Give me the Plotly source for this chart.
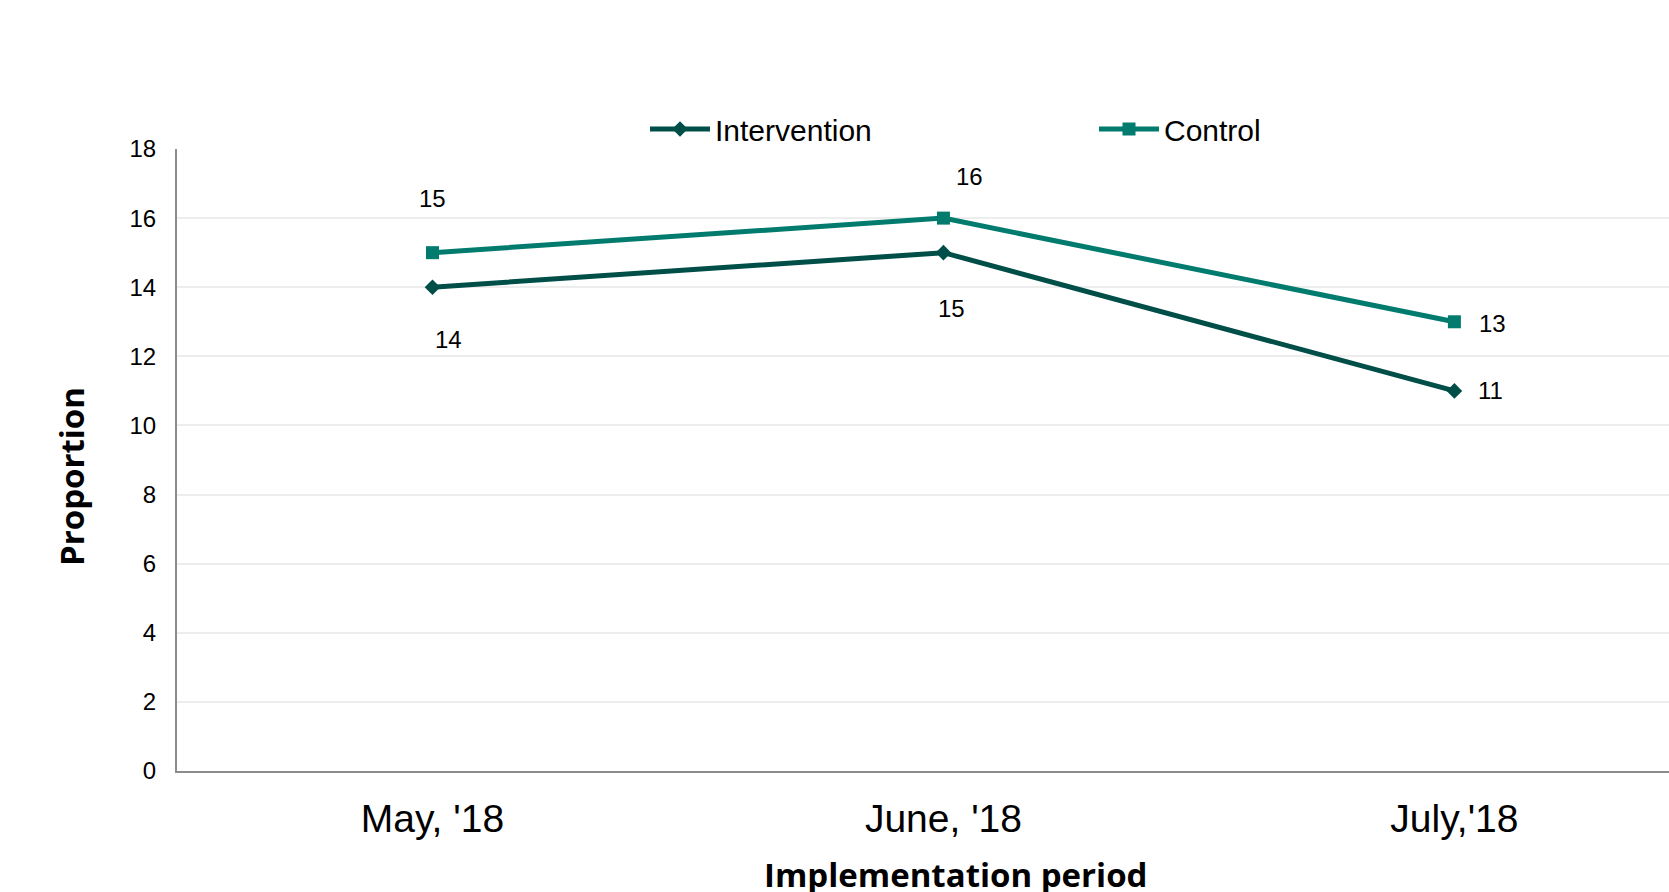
import plotly.graph_objects as go

# Monthly proportions by study arm
periods = ["May, '18", "June, '18", "July,'18"]
intervention = [14, 15, 11]
control = [15, 16, 13]

# Label offsets (pixels) for each point's value label
int_label_offsets = [(16, 52), (8, 56), (36, 0)]
ctl_label_offsets = [(0, -54), (26, -42), (38, 2)]

INT_COLOR = "#004E48"
CTL_COLOR = "#007B6D"
TICK_FONT = "Liberation Sans, Arial, sans-serif"
TITLE_FONT = "Open Sans, Noto Sans, sans-serif"

W, H = 1669, 892
ML, MR, MT, MB = 177, 0, 149, 121
pw, ph = W - ML - MR, H - MT - MB


def px_to_paper(x_px, y_px):
    """Canvas pixel (from top-left) to paper coordinates."""
    return (x_px - ML) / pw, (H - y_px - MB) / ph


fig = go.Figure()

fig.add_trace(go.Scatter(
    x=periods, y=intervention, name="Intervention", mode="lines+markers",
    line=dict(color=INT_COLOR, width=5),
    marker=dict(symbol="diamond", size=12, color=INT_COLOR),
))
fig.add_trace(go.Scatter(
    x=periods, y=control, name="Control", mode="lines+markers",
    line=dict(color=CTL_COLOR, width=5),
    marker=dict(symbol="square", size=13, color=CTL_COLOR),
))

annotations = []
for vals, offs in ((intervention, int_label_offsets), (control, ctl_label_offsets)):
    for i, (v, (dx, dy)) in enumerate(zip(vals, offs)):
        annotations.append(dict(
            x=i, y=v, xref="x", yref="y", text=str(v), showarrow=True,
            arrowcolor="rgba(0,0,0,0)", ax=dx, ay=dy,
            font=dict(family=TICK_FONT, size=24, color="#000000"),
        ))

# Axis titles placed as free text
tx, ty = px_to_paper(956, 874)
annotations.append(dict(
    x=tx, y=ty, xref="paper", yref="paper", text="<b>Implementation period</b>",
    xanchor="center", yanchor="middle", showarrow=False,
    font=dict(family=TITLE_FONT, size=33, color="#000000"),
))
px_, py_ = px_to_paper(71, 476)
annotations.append(dict(
    x=px_, y=py_, xref="paper", yref="paper", text="<b>Proportion</b>",
    xanchor="center", yanchor="middle", showarrow=False, textangle=-90,
    font=dict(family=TITLE_FONT, size=33, color="#000000"),
))

lx, ly = px_to_paper(645, 129)
fig.update_layout(
    width=W, height=H,
    margin=dict(l=ML, r=MR, t=MT, b=MB),
    paper_bgcolor="white", plot_bgcolor="white",
    showlegend=True,
    legend=dict(
        orientation="h", x=lx, y=ly,
        xanchor="left", yanchor="middle",
        font=dict(family=TICK_FONT, size=30, color="#000000"),
        itemwidth=60, tracegroupgap=0, entrywidth=374, entrywidthmode="pixels",
        bgcolor="rgba(0,0,0,0)",
    ),
    annotations=annotations,
)

fig.update_xaxes(
    range=[-0.5, 2.42], showgrid=False, showline=True, linecolor="#8C8C8C", linewidth=2,
    ticks="", tickfont=dict(family=TICK_FONT, size=39, color="#000000"), ticklabelstandoff=12,
    fixedrange=True,
)
fig.update_yaxes(
    range=[0, 18], dtick=2, showgrid=True, gridcolor="#EDEDED", gridwidth=2,
    showline=True, linecolor="#8C8C8C", linewidth=2, zeroline=False,
    ticks="", tickfont=dict(family=TICK_FONT, size=24, color="#000000"), ticklabelstandoff=14,
    fixedrange=True,
)

fig.write_html("out.html")
